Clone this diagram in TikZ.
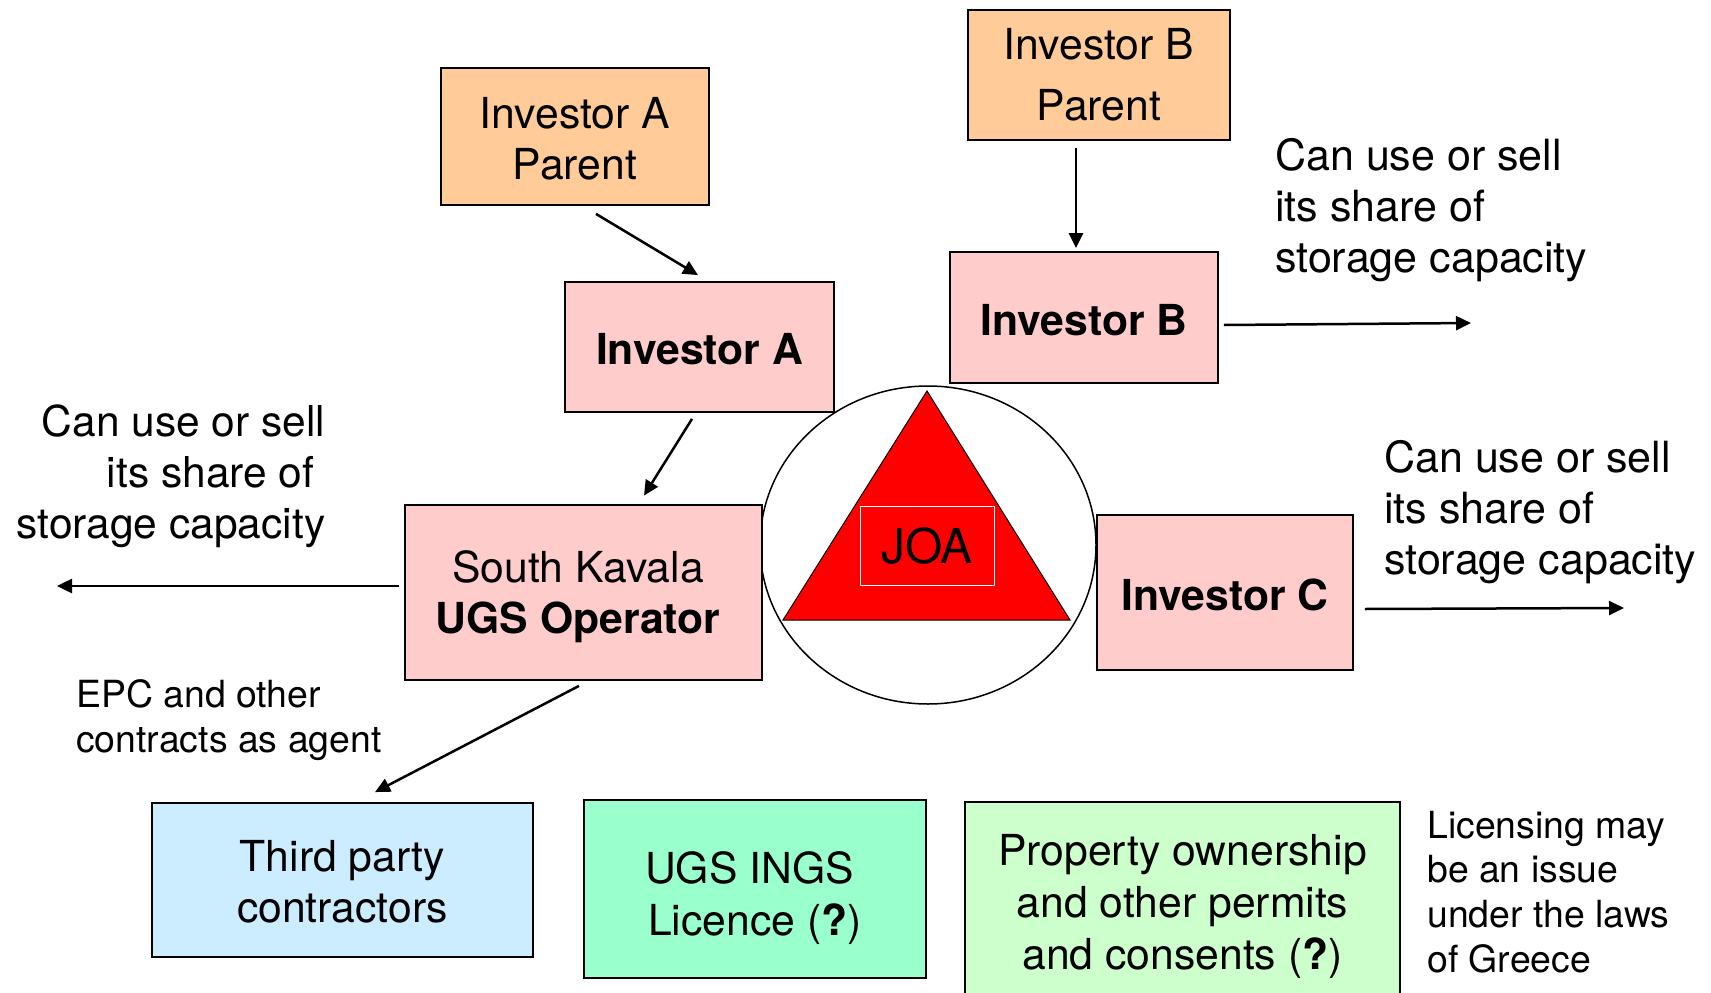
\documentclass[tikz,border=0pt]{standalone}
\usepackage{fontspec}
\setmainfont{TeX Gyre Heros}
\usetikzlibrary{arrows.meta,calc,shapes.geometric}
\definecolor{parentc}{HTML}{FFCC99}
\definecolor{invc}{HTML}{FFCCCC}
\definecolor{tpc}{HTML}{CCECFF}
\definecolor{licc}{HTML}{99FFCC}
\definecolor{propc}{HTML}{CCFFCC}
\newcommand{\dnstrut}[1]{\rule{0pt}{#1pt}}
\begin{document}
\begin{tikzpicture}[x=1pt,y=-1pt,
  box/.style={draw=black, line width=1.8pt, inner sep=0pt, align=center},
  big/.style={font=\fontsize{42.7}{51}\selectfont},
  bigb/.style={font=\fontsize{42.7}{51}\selectfont\bfseries},
  arr/.style={line width=2.5pt, -{Triangle[length=15pt,width=14pt]}},
  note/.style={font=\fontsize{37.4}{44.7}\selectfont, inner sep=0pt},
  txt/.style={font=\fontsize{43}{51}\selectfont, inner sep=0pt}
]
\clip (0,0) rectangle (1711,993);
\fill[white] (0,0) rectangle (1711,993);

% JOA circle and triangle
\node[draw=black, line width=1.5pt, ellipse, fill=white, minimum width=336pt, minimum height=318pt, inner sep=0pt] (circ) at (928,545) {};
\filldraw[fill=red, draw=black, line width=1pt] (927,391) -- (1070,620) -- (783,620) -- cycle;
\node[draw=white, line width=1pt, minimum width=134pt, minimum height=79pt, inner sep=0pt, font=\fontsize{48}{50}\selectfont] (joa) at (927,546) {JOA};

% boxes
\node[box, fill=parentc, big, minimum width=268pt, minimum height=137pt] (pa) at (575,136.5) {\dnstrut{36.5}Investor A\\Parent};
\node[box, fill=parentc, font=\fontsize{42.7}{61}\selectfont, minimum width=262pt, minimum height=130pt] (pb) at (1099,75) {Investor B\\Parent};
\node[box, fill=invc, bigb, minimum width=269pt, minimum height=130pt] (ia) at (699.5,347) {\dnstrut{35.5}Investor A};
\node[box, fill=invc, bigb, minimum width=268pt, minimum height=131pt] (ib) at (1084,317.5) {\dnstrut{35.5}Investor B};
\node[box, fill=invc, font=\fontsize{42.7}{51}\selectfont, minimum width=357pt, minimum height=175pt] (op) at (583.5,592.5) {\dnstrut{40}South Kavala\hspace*{11pt}\null\\\textbf{UGS Operator}\hspace*{11pt}\null};
\node[box, fill=invc, bigb, minimum width=256pt, minimum height=155pt] (ic) at (1225,592.5) {\dnstrut{35.5}Investor C};
\node[box, fill=tpc, big, minimum width=381pt, minimum height=154pt] (tp) at (342.5,880) {\dnstrut{35.5}Third party\\contractors};
\node[box, fill=licc, font=\fontsize{42.7}{52.5}\selectfont, minimum width=342pt, minimum height=178pt] (lic) at (755,889) {\dnstrut{50}UGS INGS\hspace*{11pt}\null\\Licence (\textbf{?})};
\node[box, fill=propc, font=\fontsize{42.7}{52}\selectfont, minimum width=435pt, minimum height=200pt] (prop) at (1182.5,902) {\dnstrut{40}Property ownership\\and other permits\\and consents (\textbf{?})};

% free texts
\node[txt, align=left, anchor=west] (tb) at (1275,210.3) {Can use or sell\\its share of\\storage capacity};
\node[txt, align=left, anchor=west] (tc) at (1384,511.8) {Can use or sell\\its share of\\storage capacity};
\node[txt, font=\fontsize{42.5}{51}\selectfont, align=right, anchor=east] (tl) at (325.5,476.2) {Can use or sell\\its share of\hspace*{11pt}\null\\storage capacity};
\node[note, align=left, anchor=west] (epc) at (76,719.8) {EPC and other\\contracts as agent};
\node[note, align=left, anchor=west] (lm) at (1427,892) {Licensing may\\be an issue\\under the laws\\of Greece};

% free ends
\coordinate (lout) at (57,586);
\coordinate (bout) at (1471,323);
\coordinate (cout) at (1624,608);

% connectors
\draw[arr] ($(pa.south)+(21,8)$) -- ($(ia.north)+(-1.5,-6)$);
\draw[arr] ($(pb.south)+(-23,7)$) -- ($(ib.north)+(-8,-3)$);
\draw[arr] ($(ia.south)+(-7.5,6)$) -- ($(op.north)+(60.5,-8.5)$);
\draw[arr] ($(op.west)+(-5,-6.5)$) -- (lout);
\draw[arr] ($(ib.east)+(5,7.5)$) -- (bout);
\draw[arr] ($(ic.east)+(11,16.5)$) -- (cout);
\draw[arr] ($(op.south)+(-4.5,5)$) -- ($(tp.north)+(32.5,-10)$);
\end{tikzpicture}
\end{document}
